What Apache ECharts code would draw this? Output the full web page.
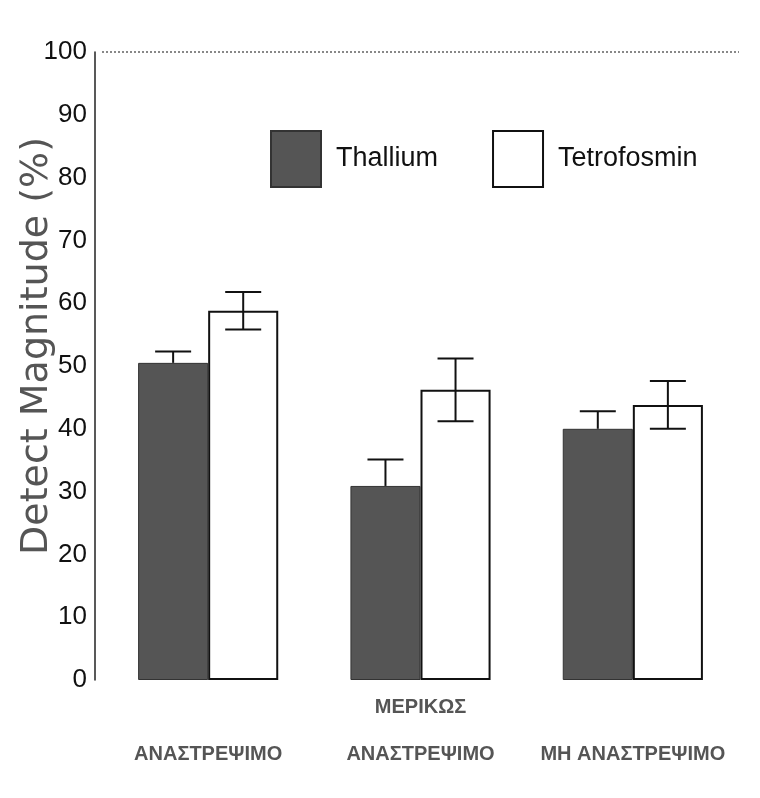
<!DOCTYPE html>
<html>
<head>
<meta charset="utf-8">
<script src="https://cdn.jsdelivr.net/npm/echarts@6/dist/echarts.min.js"></script>
<style>html,body{margin:0;padding:0;background:#fff;}#c{width:760px;height:798px;}</style>
</head>
<body>
<div id="c"></div>
<script>
var categories = ['\nΑΝΑΣΤΡΕΨΙΜΟ', 'ΜΕΡΙΚΩΣ\nΑΝΑΣΤΡΕΨΙΜΟ', '\nΜΗ ΑΝΑΣΤΡΕΨΙΜΟ'];
var seriesNames = ['Thallium', 'Tetrofosmin'];
var thallium = [50.5, 30.9, 40.0];
var thalliumErr = [1.8, 4.2, 2.8];
var tetrofosmin = [58.8, 46.2, 43.8];
var tetrofosminErr = [3.0, 5.0, 3.8];
var yTicks = {min: 0, max: 100, interval: 10};
var yTitle = 'Detect Magnitude (%)';

var chart = echarts.init(document.getElementById('c'));
var catGap = 0.34;

function errRender(side, errs, showLower) {
  return function (params, api) {
    var i = api.value(0), v = api.value(1), e = errs[params.dataIndex];
    var c = api.coord([i, v]);
    var band = api.size([1, 0])[0];
    var bw = band * (1 - catGap) / 2;
    var x = c[0] + side * bw / 2;
    var top = api.coord([i, v + e])[1];
    var bot = showLower ? api.coord([i, v - e])[1] : c[1];
    var half = 18;
    var st = {stroke: '#111', lineWidth: 2};
    var kids = [
      {type: 'line', shape: {x1: x, y1: top, x2: x, y2: bot}, style: st},
      {type: 'line', shape: {x1: x - half, y1: top, x2: x + half, y2: top}, style: st}
    ];
    if (showLower) {
      kids.push({type: 'line', shape: {x1: x - half, y1: bot, x2: x + half, y2: bot}, style: st});
    }
    return {type: 'group', children: kids};
  };
}

chart.setOption({
  animation: false,
  backgroundColor: '#ffffff',
  grid: {left: 102, right: 21, top: 52, bottom: 118, containLabel: false, outerBoundsMode: 'none'},
  legend: {
    data: seriesNames,
    left: 265, top: 125,
    icon: 'rect',
    itemWidth: 50, itemHeight: 56,
    itemGap: 54,
    textStyle: {fontFamily: 'Liberation Sans', fontSize: 27, color: '#111', padding: [0, 0, 0, 10]}
  },
  xAxis: {
    type: 'category',
    data: categories,
    axisLine: {show: false},
    axisTick: {show: false},
    axisLabel: {
      interval: 0,
      margin: 4,
      fontFamily: 'Liberation Sans',
      fontWeight: 'bold',
      fontSize: 20,
      lineHeight: 47,
      color: '#555'
    }
  },
  yAxis: {
    type: 'value',
    min: yTicks.min, max: yTicks.max, interval: yTicks.interval,
    offset: 7,
    name: yTitle,
    nameLocation: 'middle',
    nameGap: 39,
    nameMoveOverlap: false,
    nameTextStyle: {fontFamily: 'DejaVu Sans', fontSize: 38, color: '#555', padding: [0, 0, 0, 40]},
    axisLine: {show: true, lineStyle: {color: '#222', width: 1.5}},
    axisTick: {show: false},
    splitLine: {show: false},
    axisLabel: {margin: 8, fontFamily: 'Liberation Sans', fontSize: 26, color: '#111'}
  },
  series: [
    {
      name: seriesNames[0], type: 'bar', data: thallium,
      barGap: '0%', barCategoryGap: (catGap * 100) + '%',
      itemStyle: {color: '#555555', borderColor: '#333', borderWidth: 1},
      markLine: {
        silent: true, symbol: 'none',
        label: {show: false},
        lineStyle: {type: 'dotted', color: '#888', width: 2},
        data: [{yAxis: 100}]
      }
    },
    {
      name: seriesNames[1], type: 'bar', data: tetrofosmin,
      barGap: '0%', barCategoryGap: (catGap * 100) + '%',
      itemStyle: {color: '#ffffff', borderColor: '#111', borderWidth: 2}
    },
    {
      type: 'custom', silent: true, z: 5,
      data: thallium.map(function (v, i) { return [i, v]; }),
      renderItem: errRender(-1, thalliumErr, false)
    },
    {
      type: 'custom', silent: true, z: 5,
      data: tetrofosmin.map(function (v, i) { return [i, v]; }),
      renderItem: errRender(1, tetrofosminErr, true)
    }
  ]
});
</script>
</body>
</html>
